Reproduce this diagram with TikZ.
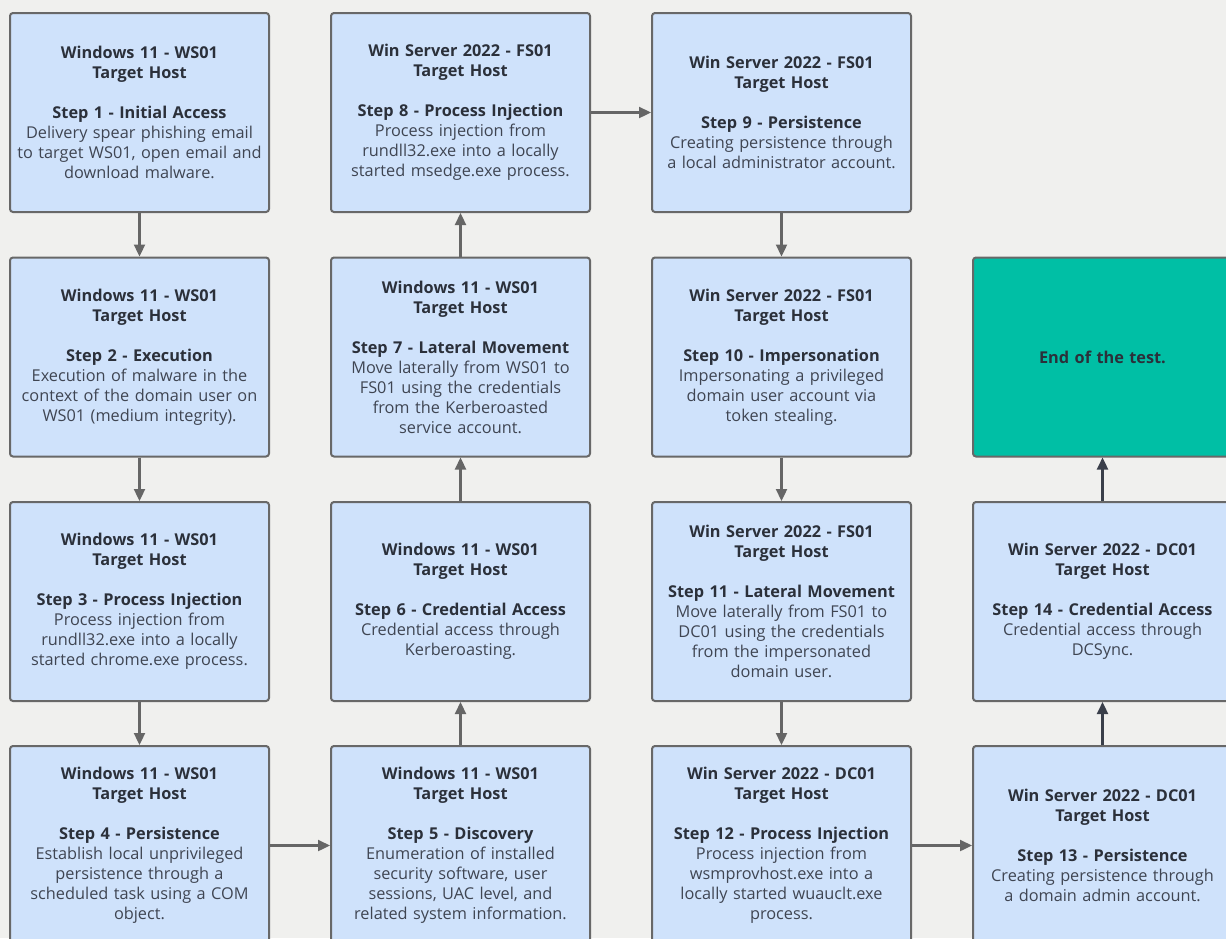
\documentclass[tikz,border=0pt]{standalone}
\usepackage{fontspec}
\setmainfont{Open Sans}
\usetikzlibrary{arrows.meta}
\definecolor{bg}{HTML}{F0F0EE}
\definecolor{boxfill}{HTML}{CFE2FB}
\definecolor{boxline}{HTML}{686868}
\definecolor{endfill}{HTML}{00BFA5}
\definecolor{titlecol}{HTML}{2B303A}
\definecolor{bodycol}{HTML}{3F4552}
\definecolor{arrgray}{HTML}{666666}
\definecolor{arrdark}{HTML}{3A3F4A}
\tikzset{
  stepbox/.style={draw=boxline, line width=2pt, fill=boxfill, rounded corners=3pt,
    minimum width=259pt, minimum height=199pt, anchor=north west,
    text width=252pt, align=center, font=\fontsize{16.3}{20}\selectfont, text=bodycol, inner sep=0pt},
  endbox/.style={stepbox, fill=endfill},
  flow/.style={draw=arrgray, line width=2.3pt, -{Triangle[length=12pt,width=11pt]}},
  flowdark/.style={flow, draw=arrdark},
}
\newcommand{\hd}[1]{{\bfseries\color{titlecol}#1}}
\begin{document}
\begin{tikzpicture}[x=1pt,y=-1pt]
\useasboundingbox (0,0) rectangle (1226,938);
\fill[bg] (0,0) rectangle (1226,938);
\begin{scope}
\clip (0,0) rectangle (1226,938);
% column 1
\node[stepbox] (s1) at (9,12) {\hd{Windows 11 - WS01}\\\hd{Target Host}\\[20pt]\hd{Step 1 - Initial Access}\\Delivery spear phishing email\\to target WS01, open email and\\download malware.};
\node[stepbox] (s2) at (9,256.5) {\hd{Windows 11 - WS01}\\\hd{Target Host}\\[20pt]\hd{Step 2 - Execution}\\Execution of malware in the\\context of the domain user on\\WS01 (medium integrity).};
\node[stepbox] (s3) at (9,501) {\hd{Windows 11 - WS01}\\\hd{Target Host}\\[20pt]\hd{Step 3 - Process Injection}\\Process injection from\\rundll32.exe into a locally\\started chrome.exe process.};
\node[stepbox] (s4) at (9,745) {\hd{Windows 11 - WS01}\\\hd{Target Host}\\[20pt]\hd{Step 4 - Persistence}\\Establish local unprivileged\\persistence through a\\scheduled task using a COM\\object.};
% column 2
\node[stepbox] (s8) at (330,12) {\hd{Win Server 2022 - FS01}\\\hd{Target Host}\\[20pt]\hd{Step 8 - Process Injection}\\Process injection from\\rundll32.exe into a locally\\started msedge.exe process.};
\node[stepbox] (s7) at (330,256.5) {\hd{Windows 11 - WS01}\\\hd{Target Host}\\[20pt]\hd{Step 7 - Lateral Movement}\\Move laterally from WS01 to\\FS01 using the credentials\\from the Kerberoasted\\service account.};
\node[stepbox] (s6) at (330,501) {\hd{Windows 11 - WS01}\\\hd{Target Host}\\[20pt]\hd{Step 6 - Credential Access}\\Credential access through\\Kerberoasting.};
\node[stepbox] (s5) at (330,745) {\hd{Windows 11 - WS01}\\\hd{Target Host}\\[20pt]\hd{Step 5 - Discovery}\\Enumeration of installed\\security software, user\\sessions, UAC level, and\\related system information.};
% column 3
\node[stepbox] (s9) at (651,12) {\hd{Win Server 2022 - FS01}\\\hd{Target Host}\\[20pt]\hd{Step 9 - Persistence}\\Creating persistence through\\a local administrator account.};
\node[stepbox] (s10) at (651,256.5) {\hd{Win Server 2022 - FS01}\\\hd{Target Host}\\[20pt]\hd{Step 10 - Impersonation}\\Impersonating a privileged\\domain user account via\\token stealing.};
\node[stepbox] (s11) at (651,501) {\hd{Win Server 2022 - FS01}\\\hd{Target Host}\\[20pt]\hd{Step 11 - Lateral Movement}\\Move laterally from FS01 to\\DC01 using the credentials\\from the impersonated\\domain user.};
\node[stepbox] (s12) at (651,745) {\hd{Win Server 2022 - DC01}\\\hd{Target Host}\\[20pt]\hd{Step 12 - Process Injection}\\Process injection from\\wsmprovhost.exe into a\\locally started wuauclt.exe\\process.};
% column 4
\node[endbox] (end) at (972,256.5) {\hd{End of the test.}};
\node[stepbox] (s14) at (972,501) {\hd{Win Server 2022 - DC01}\\\hd{Target Host}\\[20pt]\hd{Step 14 - Credential Access}\\Credential access through\\DCSync.};
\node[stepbox] (s13) at (972,745) {\hd{Win Server 2022 - DC01}\\\hd{Target Host}\\[20pt]\hd{Step 13 - Persistence}\\Creating persistence through\\a domain admin account.};
% connectors
\draw[flow] (s1) -- (s2);
\draw[flow] (s2) -- (s3);
\draw[flow] (s3) -- (s4);
\draw[flow] (s4) -- (s5);
\draw[flow] (s5) -- (s6);
\draw[flow] (s6) -- (s7);
\draw[flow] (s7) -- (s8);
\draw[flow] (s8) -- (s9);
\draw[flow] (s9) -- (s10);
\draw[flow] (s10) -- (s11);
\draw[flow] (s11) -- (s12);
\draw[flow] (s12) -- (s13);
\draw[flowdark] (s13) -- (s14);
\draw[flowdark] (s14) -- (end);
\end{scope}
\end{tikzpicture}
\end{document}
